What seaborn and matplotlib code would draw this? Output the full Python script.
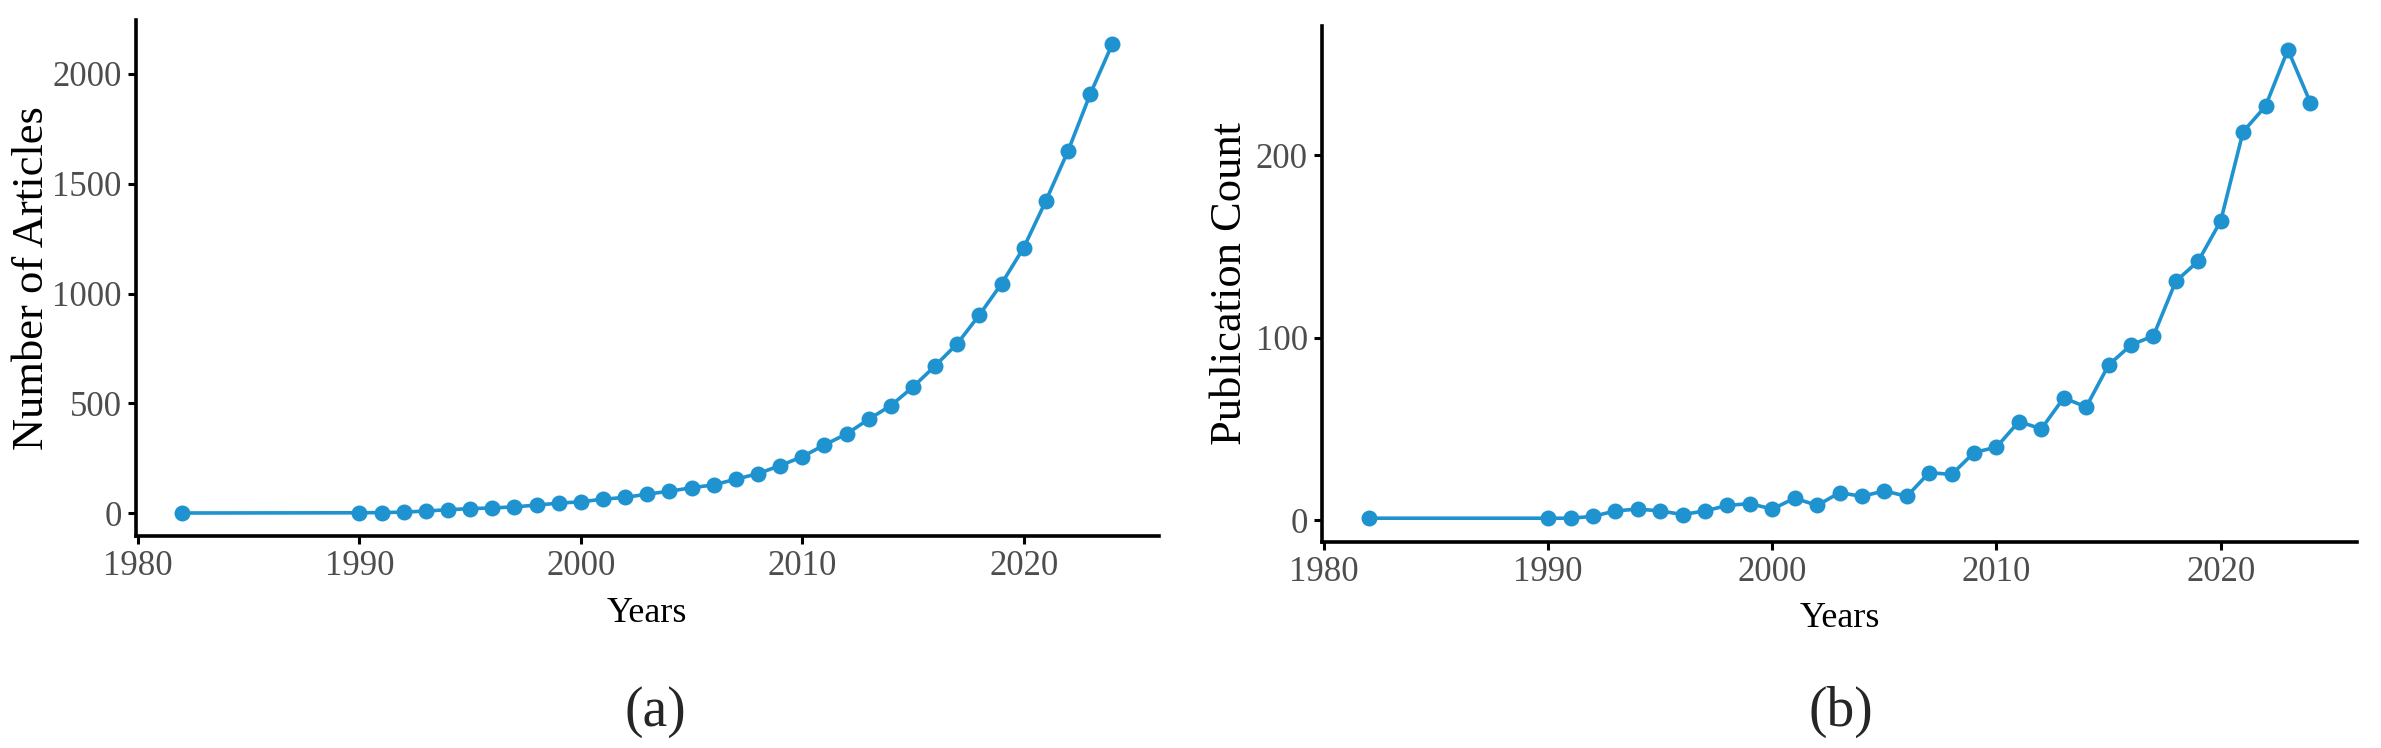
import pandas as pd
import matplotlib.pyplot as plt
import seaborn as sns

# values
years = [1982, 1990, 1991, 1992, 1993, 1994, 1995, 1996, 1997, 1998, 1999,
         2000, 2001, 2002, 2003, 2004, 2005, 2006, 2007, 2008, 2009,
         2010, 2011, 2012, 2013, 2014, 2015, 2016, 2017, 2018, 2019,
         2020, 2021, 2022, 2023, 2024]

# (a) number of articles
articles = [1, 2, 3, 5, 10, 16, 21, 24, 29, 37, 46,
            52, 64, 72, 87, 100, 116, 129, 155, 180, 217,
            257, 311, 361, 428, 490, 575, 671, 772, 903, 1045,
            1209, 1422, 1649, 1907, 2136]

# (b) publication count
publications = [1, 1, 1, 2, 5, 6, 5, 3, 5, 8, 9,
                6, 12, 8, 15, 13, 16, 13, 26, 25, 37,
                40, 54, 50, 67, 62, 85, 96, 101, 131, 142,
                164, 213, 227, 258, 229]

x_ticks = [1980, 1990, 2000, 2010, 2020]
a_ticks = [0, 500, 1000, 1500, 2000]
b_ticks = [0, 100, 200]

df = pd.DataFrame({"Years": years, "Articles": articles, "Publications": publications})

sns.set_theme(style="ticks")
plt.rcParams["font.family"] = ["Liberation Serif", "DejaVu Serif"]

blue = "#1f92d0"

fig = plt.figure(figsize=(23.81, 7.48), dpi=100)
ax1 = fig.add_axes([0.0570, 0.2828, 0.4297, 0.6898])
ax2 = fig.add_axes([0.5551, 0.2759, 0.4350, 0.6890])

panels = [
    (ax1, "Articles", "Number of Articles", a_ticks, -0.082, 0.2751, "(a)"),
    (ax2, "Publications", "Publication Count", b_ticks, -0.069, 0.7732, "(b)"),
]

for ax, col, ylab, yt, ylab_x, tag_x, tag in panels:
    sns.lineplot(data=df, x="Years", y=col, ax=ax, color=blue, linewidth=2.6,
                 marker="o", markersize=11.5, markeredgewidth=0)
    # ggplot-like 5% expansion
    lo, hi = df[col].min(), df[col].max()
    pad = (hi - lo) * 0.05
    ax.set_ylim(lo - pad, hi + pad)
    ax.set_xlim(1982 - 2.1, 2024 + 2.1)
    ax.set_xticks(x_ticks)
    ax.set_yticks(yt)
    sns.despine(ax=ax)
    for s in ["left", "bottom"]:
        ax.spines[s].set_linewidth(2.6)
        ax.spines[s].set_color("black")
    ax.tick_params(length=6, width=2.2, color="black", labelsize=25,
                   labelcolor="#4d4d4d", pad=4)
    ax.set_xlabel("Years", fontsize=26, color="black")
    ax.xaxis.set_label_coords(0.5, -0.118)
    ax.set_ylabel(ylab, fontsize=32, color="black")
    ax.yaxis.set_label_coords(ylab_x, 0.5)
    fig.text(tag_x, 0.048, tag, ha="center", va="center", fontsize=40)

fig.savefig("out.png", dpi=100)
